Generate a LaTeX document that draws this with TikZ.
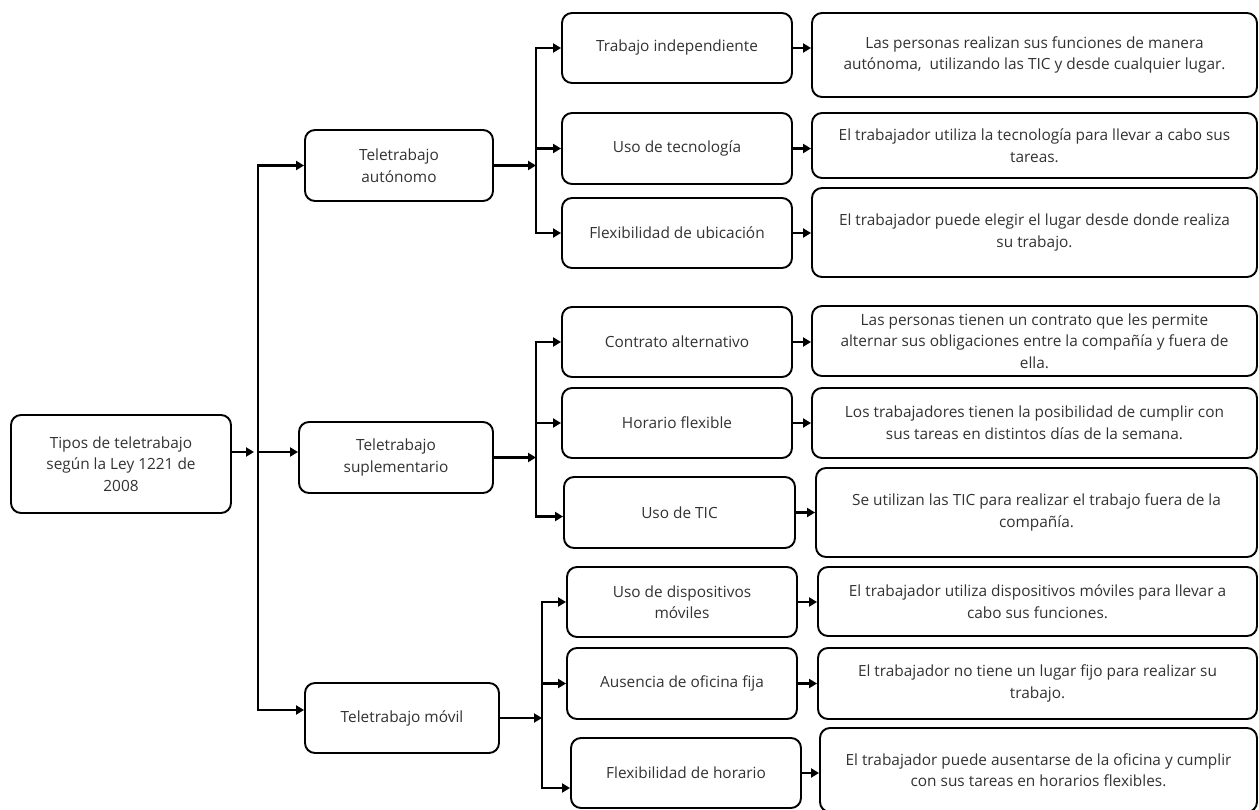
\documentclass[tikz,border=0pt]{standalone}
\usepackage{fontspec}
\setmainfont{Open Sans}
\usepackage{tikz}
\usetikzlibrary{arrows.meta}
\definecolor{txtgray}{RGB}{50,50,50}

\begin{document}
\begin{tikzpicture}[
    x=1pt, y=-1pt,
    box/.style={rectangle, rounded corners=10pt, draw, line width=1.9pt, align=center, text=txtgray, font=\fontsize{15.4}{21.5}\selectfont, inner sep=2pt},
    root/.style={box, minimum width=220pt, minimum height=98pt},
    kind/.style={box, minimum width=190pt, minimum height=71pt},
    trait/.style={box, minimum width=230pt, minimum height=70pt},
    info/.style={box, minimum width=445pt, minimum height=70pt},
    arr/.style={-{Triangle[length=8pt, width=9pt]}, line width=2.2pt}
]
    \useasboundingbox (0,0) rectangle (1259,810);

    % raiz
    \node[root] (tipos) at (121,464) {Tipos de teletrabajo\\según la Ley 1221 de\\2008};

    % tipos
    \node[kind, minimum width=188pt] (aut) at (399,165.5) {Teletrabajo\\autónomo};
    \node[kind, minimum width=194pt] (sup) at (396,457.5) {Teletrabajo\\suplementario};
    \node[kind, minimum width=194pt, minimum height=70pt] (mov) at (402,718) {Teletrabajo móvil};

    % rasgos
    \node[trait] (indep) at (677,48) {Trabajo independiente};
    \node[trait, minimum height=71pt] (tecno) at (677,148.5) {Uso de tecnología};
    \node[trait] (ubic) at (677,233) {Flexibilidad de ubicación};
    \node[trait] (contr) at (677,342) {Contrato alternativo};
    \node[trait] (horfl) at (677,423) {Horario flexible};
    \node[trait, minimum width=231pt, minimum height=71pt] (tic) at (679.5,512.5) {Uso de TIC};
    \node[trait] (movil) at (682,602) {Uso de dispositivos\\móviles};
    \node[trait, minimum height=71pt] (ofic) at (682,683.5) {Ausencia de oficina fija};
    \node[trait] (flexh) at (686,773) {Flexibilidad de horario};

    % descripciones
    \node[info, minimum height=84pt] (d-indep) at (1034.5,55) {Las personas realizan sus funciones de manera\\autónoma,~ utilizando las TIC y desde cualquier lugar.};
    \node[info, minimum height=65pt] (d-tecno) at (1034.5,145.5) {El trabajador utiliza la tecnología para llevar a cabo sus\\tareas.};
    \node[info, minimum height=89pt] (d-ubic) at (1034.5,232.5) {El trabajador puede elegir el lugar desde donde realiza\\su trabajo.};
    \node[info] (d-contr) at (1034.5,341) {Las personas tienen un contrato que les permite\\alternar sus obligaciones entre la compañía y fuera de\\ella.};
    \node[info] (d-horfl) at (1034.5,423) {Los trabajadores tienen la posibilidad de cumplir con\\sus tareas en distintos días de la semana.};
    \node[info, minimum width=441pt, minimum height=89pt] (d-tic) at (1036.5,512.5) {Se utilizan las TIC para realizar el trabajo fuera de la\\compañía.};
    \node[info, minimum width=439pt, minimum height=69pt] (d-movil) at (1037.5,601.5) {El trabajador utiliza dispositivos móviles para llevar a\\cabo sus funciones.};
    \node[info, minimum width=439pt, minimum height=71pt] (d-ofic) at (1037.5,683.5) {El trabajador no tiene un lugar fijo para realizar su\\trabajo.};
    \node[info, minimum width=437pt, minimum height=84pt] (d-flexh) at (1038.5,770) {El trabajador puede ausentarse de la oficina y cumplir\\con sus tareas en horarios flexibles.};

    % ramas
    \coordinate (j0) at (258,452);
    \coordinate (j1) at (536,165.5);
    \coordinate (j2) at (536,457.5);
    \coordinate (j3) at (542,718);

    \draw[arr] (tipos.east |- j0) -- ([xshift=-4pt]j0);
    \draw[arr] (j0) |- (aut);
    \draw[arr] (j0) -- (sup.west |- j0);
    \draw[arr] (j0) |- ([yshift=8pt]mov.west);

    \draw[arr] (aut) -- (j1);
    \draw[arr] (j1) |- (indep);
    \draw[arr] (j1) |- (tecno);
    \draw[arr] (j1) |- (ubic);

    \draw[arr] (sup) -- (j2);
    \draw[arr] (j2) |- (contr);
    \draw[arr] (j2) |- (horfl);
    \draw[arr] (j2) |- ([yshift=-4pt]tic.west);

    \draw[arr] (mov) -- (j3);
    \draw[arr] (j3) |- (movil);
    \draw[arr] (j3) |- (ofic);
    \draw[arr] (j3) |- ([yshift=-15pt]flexh.west);

    \draw[arr] (indep.east) -- (indep.east -| d-indep.west);
    \draw[arr] (tecno.east) -- (tecno.east -| d-tecno.west);
    \draw[arr] (ubic.east) -- (ubic.east -| d-ubic.west);
    \draw[arr] (contr.east) -- (contr.east -| d-contr.west);
    \draw[arr] (horfl.east) -- (horfl.east -| d-horfl.west);
    \draw[arr] (tic.east) -- (tic.east -| d-tic.west);
    \draw[arr] (movil.east) -- (movil.east -| d-movil.west);
    \draw[arr] (ofic.east) -- (ofic.east -| d-ofic.west);
    \draw[arr] (flexh.east) -- (flexh.east -| d-flexh.west);
\end{tikzpicture}
\end{document}
